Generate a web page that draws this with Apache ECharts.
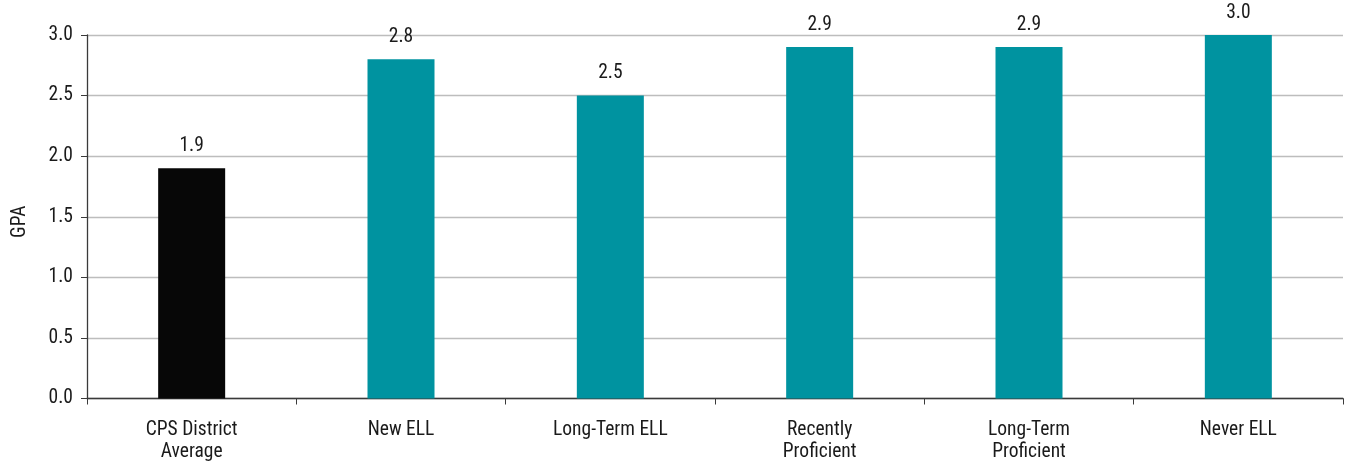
<!DOCTYPE html>
<html><head><meta charset="utf-8">
<script src="https://cdn.jsdelivr.net/npm/echarts@6/dist/echarts.min.js"></script>
<style>html,body{margin:0;padding:0;background:#fff}#c{width:1346px;height:464px}</style>
</head><body><div id="c"></div>
<script>
const categories = ['CPS District\nAverage', 'New ELL', 'Long-Term ELL', 'Recently\nProficient', 'Long-Term\nProficient', 'Never ELL'];
const gpaValues = [1.9, 2.8, 2.5, 2.9, 2.9, 3.0];
const barColors = ['#070707', '#0093a0', '#0093a0', '#0093a0', '#0093a0', '#0093a0'];
const yAxisName = 'GPA';
const FONT = '"Roboto Condensed", "Liberation Sans Narrow", "Liberation Sans", sans-serif';
const chart = echarts.init(document.getElementById('c'));
chart.setOption({
  animation: false,
  grid: { left: 87, right: 3, top: 35, bottom: 65.5, containLabel: false, outerBoundsMode: 'none' },
  xAxis: {
    type: 'category', data: categories,
    axisLine: { lineStyle: { color: '#3a3a3a', width: 1.3 } },
    axisTick: { show: true, length: 6, lineStyle: { color: '#3a3a3a' }, alignWithLabel: false },
    axisLabel: { color: '#1a1a1a', fontFamily: FONT, fontSize: 19.5, lineHeight: 22, margin: 21 }
  },
  yAxis: {
    type: 'value', min: 0, max: 3, interval: 0.5,
    name: yAxisName, nameLocation: 'middle', nameGap: 57, nameRotate: 90,
    nameTextStyle: { color: '#1a1a1a', fontFamily: FONT, fontSize: 19.5, padding: [0, 10, 0, 0] },
    axisLine: { show: true, lineStyle: { color: '#3a3a3a', width: 1.3 } },
    axisTick: { show: true, length: 6, lineStyle: { color: '#3a3a3a' } },
    axisLabel: { color: '#1a1a1a', fontFamily: FONT, fontSize: 19.5, margin: 14, formatter: v => v.toFixed(1) },
    splitLine: { lineStyle: { color: '#bdbdbd', width: 1.3 } }
  },
  series: [{
    type: 'bar', barWidth: 67,
    data: gpaValues.map((v, i) => ({ value: v, itemStyle: { color: barColors[i] } })),
    label: { show: true, position: 'top', distance: 12, color: '#1a1a1a', fontFamily: FONT, fontSize: 19.5, formatter: p => p.value.toFixed(1) }
  }]
});
</script></body></html>
